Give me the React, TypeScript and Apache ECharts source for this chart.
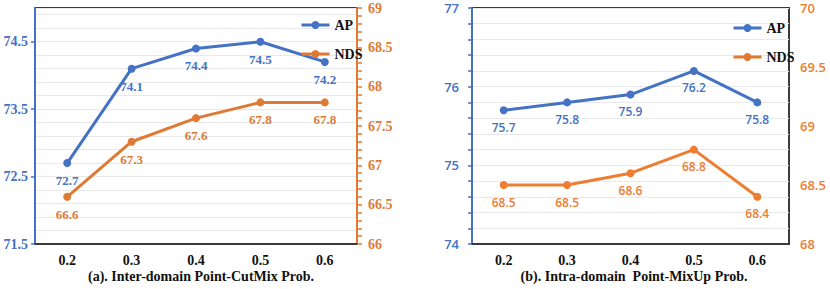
import React, { useEffect, useRef } from "react";
import * as echarts from "echarts";

const categories = ["0.2", "0.3", "0.4", "0.5", "0.6"];
const interAP = [72.7, 74.1, 74.4, 74.5, 74.2];
const interNDS = [66.6, 67.3, 67.6, 67.8, 67.8];
const intraAP = [75.7, 75.8, 75.9, 76.2, 75.8];
const intraNDS = [68.5, 68.5, 68.6, 68.8, 68.4];
const titleA = "(a). Inter-domain Point-CutMix Prob.";
const titleB = "(b). Intra-domain  Point-MixUp Prob.";

const BLUE = "#4472C4";
const ORANGE = "#ED7D31";
const ORANGE_A = "#DE7A34";
const DARK = "#3A3A3A";
const GRIDC = "#E9E9E9";
const SERIF = "Liberation Serif";
const SANS = "Open Sans";

export default function App() {
  const ref = useRef<HTMLDivElement>(null);
  useEffect(() => {
    if (!ref.current) return;
    const chart = echarts.init(ref.current, null, { renderer: "svg" });
    const lineSeries = (
      name: string,
      data: number[],
      xi: number,
      yi: number,
      color: string,
      font: string,
      labelColor: string,
      weight: any
    ) => ({
      name,
      type: "line",
      xAxisIndex: xi,
      yAxisIndex: yi,
      data,
      symbol: "circle",
      symbolSize: 8,
      lineStyle: { color, width: 3 },
      itemStyle: { color, borderColor: color, borderWidth: 0 },
      label: {
        show: true,
        position: "bottom",
        distance: 7,
        color: labelColor,
        fontFamily: font,
        fontSize: font === SERIF ? 13 : 12,
        fontWeight: weight,
        formatter: (p: any) => Number(p.value).toFixed(1),
      },
    });
    const xAxisBase = (gi: number) => ({
      type: "category",
      gridIndex: gi,
      data: categories,
      boundaryGap: true,
      axisLine: { show: true, lineStyle: { color: DARK, width: 2 } },
      axisTick: { show: false },
      axisLabel: {
        color: "#111",
        fontFamily: SERIF,
        fontWeight: "bold",
        fontSize: 14,
        margin: 9,
      },
      splitLine: { show: false },
    });
    const legendBase = (left: number, top: number) => ({
      orient: "vertical",
      left,
      top,
      itemWidth: 28,
      itemHeight: 10,
      itemGap: 15,
      data: ["AP", "NDS"],
      lineStyle: { width: 3 },
      textStyle: { fontFamily: SERIF, fontWeight: "bold", fontSize: 14, color: "#111" },
    });
    chart.setOption({
      animation: false,
      backgroundColor: "#fff",
      title: [
        {
          text: titleA,
          left: 196,
          top: 264,
          textAlign: "center",
          textStyle: { fontFamily: SERIF, fontWeight: "bold", fontSize: 14, color: "#111" },
        },
        {
          text: titleB,
          left: 629,
          top: 264,
          textAlign: "center",
          textStyle: { fontFamily: SERIF, fontWeight: "bold", fontSize: 14, color: "#111" },
        },
      ],
      legend: [legendBase(295, 13), legendBase(727, 16)],
      grid: [
        { left: 35, top: 8, width: 322, height: 236, show: true, borderColor: DARK, borderWidth: 2, backgroundColor: "transparent" },
        { left: 472, top: 8, width: 317, height: 236, show: true, borderColor: DARK, borderWidth: 2, backgroundColor: "transparent" },
      ],
      xAxis: [xAxisBase(0), xAxisBase(1)],
      yAxis: [
        {
          type: "value",
          gridIndex: 0,
          position: "left",
          min: 71.5,
          max: 75,
          interval: 1,
          axisLine: { show: true, lineStyle: { color: BLUE, width: 2 } },
          axisTick: { show: true, length: 4, lineStyle: { color: BLUE, width: 1.5 } },
          axisLabel: {
            color: BLUE,
            fontFamily: SERIF,
            fontWeight: "bold",
            fontSize: 14,
            margin: 7,
            showMaxLabel: false,
            formatter: (v: number) => (v >= 75 ? "" : v.toFixed(1)),
          },
          splitLine: { show: false },
        },
        {
          type: "value",
          gridIndex: 0,
          position: "right",
          min: 66,
          max: 69,
          interval: 0.5,
          axisLine: { show: true, lineStyle: { color: ORANGE_A, width: 2 } },
          axisTick: { show: true, length: 5, lineStyle: { color: ORANGE_A, width: 1.5 } },
          minorTick: { show: true, splitNumber: 5, length: 5, lineStyle: { color: ORANGE_A, width: 1.5 } },
          axisLabel: {
            color: ORANGE_A,
            fontFamily: SERIF,
            fontWeight: "bold",
            fontSize: 14,
            lineHeight: 14,
            margin: 11,
            formatter: (v: number) => String(v),
          },
          splitLine: { show: false },
        },
        {
          type: "value",
          gridIndex: 0,
          position: "left",
          min: 0,
          max: 3.5,
          interval: 0.2,
          axisLine: { show: false },
          axisTick: { show: false },
          axisLabel: { show: false },
          splitLine: { show: true, lineStyle: { color: GRIDC, width: 1 } },
        },
        {
          type: "value",
          gridIndex: 1,
          position: "left",
          min: 74,
          max: 77,
          interval: 1,
          axisLine: { show: true, lineStyle: { color: BLUE, width: 2 } },
          axisTick: { show: true, length: 4, lineStyle: { color: BLUE, width: 1.5 } },
          minorTick: { show: true, splitNumber: 5, length: 4, lineStyle: { color: BLUE, width: 1.5 } },
          axisLabel: {
            color: BLUE,
            fontFamily: SANS,
            fontWeight: 600,
            fontSize: 13,
            lineHeight: 13,
            margin: 13,
          },
          splitLine: { show: true, lineStyle: { color: GRIDC, width: 1 } },
          minorSplitLine: { show: true, lineStyle: { color: GRIDC, width: 1 } },
        },
        {
          type: "value",
          gridIndex: 1,
          position: "right",
          min: 68,
          max: 70,
          interval: 0.5,
          axisLine: { show: false },
          axisTick: { show: false },
          axisLabel: {
            color: ORANGE,
            fontFamily: SANS,
            fontWeight: 600,
            fontSize: 13,
            lineHeight: 13,
            margin: 11,
            formatter: (v: number) => String(v),
          },
          splitLine: { show: false },
        },
      ],
      series: [
        lineSeries("AP", interAP, 0, 0, BLUE, SERIF, BLUE, "bold"),
        lineSeries("NDS", interNDS, 0, 1, ORANGE_A, SERIF, ORANGE_A, "bold"),
        lineSeries("AP", intraAP, 1, 3, BLUE, SANS, BLUE, 600),
        lineSeries("NDS", intraNDS, 1, 4, ORANGE, SANS, ORANGE, 600),
      ],
    });
    return () => chart.dispose();
  }, []);
  return (
    <div
      ref={ref}
      style={{ position: "absolute", left: 0, top: 0, width: 830, height: 289, background: "#fff" }}
    />
  );
}
